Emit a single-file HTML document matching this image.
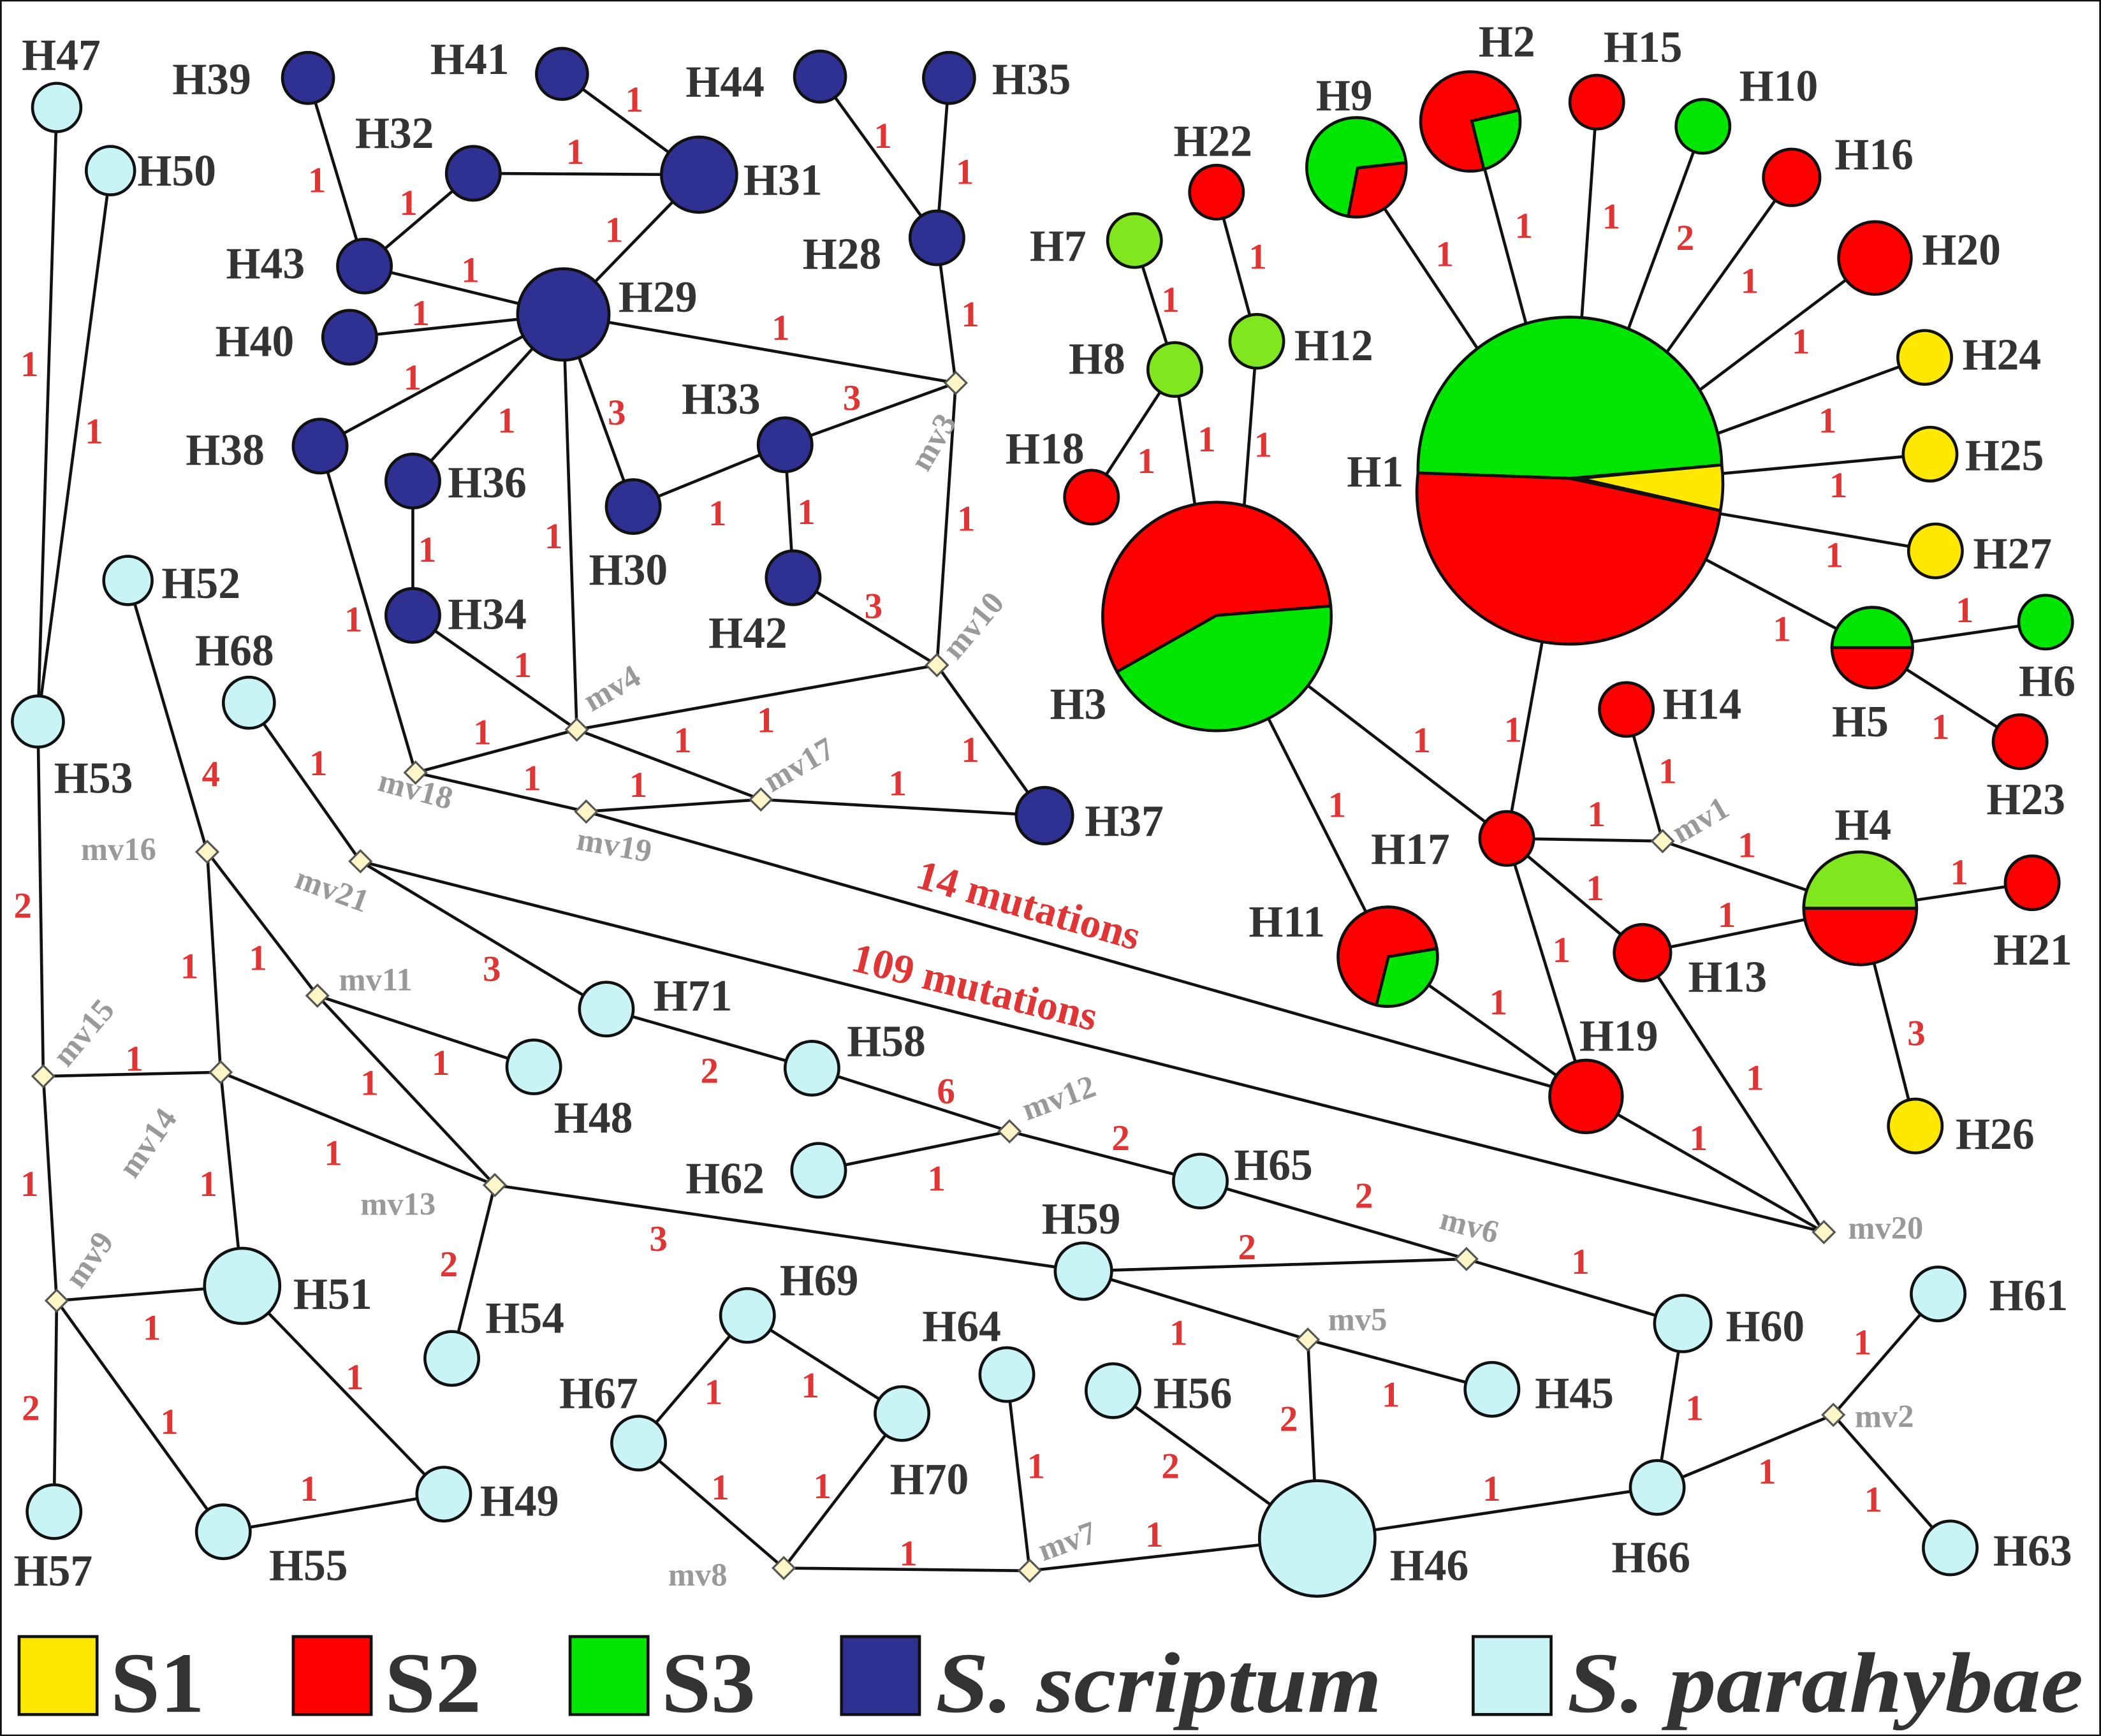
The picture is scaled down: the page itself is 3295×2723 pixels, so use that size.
<!DOCTYPE html>
<html><head><meta charset="utf-8"><style>
html,body{margin:0;padding:0;background:#fff;}
svg{display:block;}
.n{font-family:"Liberation Serif",serif;font-weight:bold;font-size:33px;fill:#333;}
.m{font-family:"Liberation Serif",serif;font-weight:bold;font-size:24px;fill:#999;}
.e{font-family:"Liberation Serif",serif;font-weight:bold;font-size:27px;fill:#e03535;}
.big{font-family:"Liberation Serif",serif;font-weight:bold;font-size:31px;fill:#e03535;}
.lg{font-family:"Liberation Serif",serif;font-weight:bold;font-size:64px;fill:#333;}
line{stroke:#111;stroke-width:2.2;}
circle,path,rect{stroke:#111;stroke-width:2.2;}
.c{fill:#c9f4f6;}.b{fill:#2e3192;}.r{fill:#ff0000;}.g{fill:#00e600;}.lgn{fill:#80e61e;}.y{fill:#ffe800;}
.d{fill:#fff6c8;stroke:#555;stroke-width:1.5;}
</style></head><body>
<svg width="3295" height="2723" viewBox="0 0 1563 1292" xmlns="http://www.w3.org/2000/svg">
<rect x="0" y="0" width="1563" height="1292" fill="#fff" stroke="none"/>
<g>
<line x1="42" y1="80" x2="28" y2="537"/><line x1="82" y1="127" x2="28" y2="537"/>
<line x1="28" y1="537" x2="32" y2="801"/><line x1="32" y1="801" x2="42" y2="968"/><line x1="42" y1="968" x2="40" y2="1125"/>
<line x1="32" y1="801" x2="164" y2="798"/><line x1="95" y1="432" x2="154" y2="634"/><line x1="154" y1="634" x2="164" y2="798"/>
<line x1="154" y1="634" x2="236" y2="741"/><line x1="164" y1="798" x2="180" y2="957"/><line x1="164" y1="798" x2="368" y2="882"/>
<line x1="236" y1="741" x2="397" y2="794"/><line x1="236" y1="741" x2="368" y2="882"/><line x1="185" y1="523" x2="268" y2="641"/>
<line x1="268" y1="641" x2="451" y2="751"/><line x1="268" y1="641" x2="1357" y2="917"/><line x1="436" y1="604" x2="1180" y2="816"/>
<line x1="368" y1="882" x2="336" y2="1011"/><line x1="368" y1="882" x2="806" y2="946"/><line x1="42" y1="968" x2="180" y2="957"/>
<line x1="42" y1="968" x2="166" y2="1140"/><line x1="180" y1="957" x2="330" y2="1112"/><line x1="166" y1="1140" x2="330" y2="1112"/>
<line x1="451" y1="751" x2="604" y2="795"/><line x1="604" y1="795" x2="751" y2="842"/><line x1="751" y1="842" x2="609" y2="871"/>
<line x1="751" y1="842" x2="893" y2="879"/><line x1="893" y1="879" x2="1091" y2="937"/><line x1="806" y1="946" x2="1091" y2="937"/>
<line x1="1091" y1="937" x2="1252" y2="985"/><line x1="806" y1="946" x2="973" y2="997"/><line x1="973" y1="997" x2="1110" y2="1034"/>
<line x1="973" y1="997" x2="980" y2="1145"/><line x1="828" y1="1035" x2="980" y2="1145"/><line x1="980" y1="1145" x2="1233" y2="1107"/>
<line x1="1233" y1="1107" x2="1252" y2="985"/><line x1="1233" y1="1107" x2="1364" y2="1053"/><line x1="1364" y1="1053" x2="1442" y2="963"/>
<line x1="1364" y1="1053" x2="1451" y2="1152"/><line x1="766" y1="1169" x2="980" y2="1145"/><line x1="583" y1="1167" x2="766" y2="1169"/>
<line x1="749" y1="1023" x2="766" y2="1169"/><line x1="583" y1="1167" x2="475" y2="1074"/><line x1="583" y1="1167" x2="671" y2="1052"/>
<line x1="475" y1="1074" x2="556" y2="979"/><line x1="556" y1="979" x2="671" y2="1052"/>
<line x1="229" y1="58" x2="271" y2="198"/><line x1="271" y1="198" x2="352" y2="129"/><line x1="352" y1="129" x2="520" y2="130"/>
<line x1="418" y1="55" x2="520" y2="130"/><line x1="520" y1="130" x2="419" y2="234"/><line x1="271" y1="198" x2="419" y2="234"/>
<line x1="260" y1="251" x2="419" y2="234"/><line x1="238" y1="332" x2="419" y2="234"/><line x1="419" y1="234" x2="429" y2="543"/>
<line x1="419" y1="234" x2="471" y2="377"/><line x1="419" y1="234" x2="307" y2="358"/><line x1="419" y1="234" x2="711" y2="285"/>
<line x1="610" y1="57" x2="697" y2="177"/><line x1="706" y1="58" x2="697" y2="177"/><line x1="697" y1="177" x2="711" y2="285"/>
<line x1="711" y1="285" x2="584" y2="331"/><line x1="584" y1="331" x2="471" y2="377"/><line x1="584" y1="331" x2="590" y2="430"/>
<line x1="590" y1="430" x2="697" y2="495"/><line x1="711" y1="285" x2="697" y2="495"/><line x1="697" y1="495" x2="777" y2="607"/>
<line x1="697" y1="495" x2="429" y2="543"/><line x1="307" y1="358" x2="307" y2="458"/><line x1="307" y1="458" x2="429" y2="543"/>
<line x1="429" y1="543" x2="309" y2="575"/><line x1="429" y1="543" x2="566" y2="595"/><line x1="238" y1="332" x2="309" y2="575"/>
<line x1="309" y1="575" x2="436" y2="604"/><line x1="436" y1="604" x2="566" y2="595"/><line x1="566" y1="595" x2="777" y2="607"/>
<line x1="844" y1="179" x2="874" y2="275"/><line x1="874" y1="275" x2="812" y2="370"/><line x1="874" y1="275" x2="900" y2="450"/>
<line x1="905" y1="143" x2="935" y2="254"/><line x1="935" y1="254" x2="920" y2="450"/>
<line x1="1010" y1="125" x2="1168" y2="363"/><line x1="1095" y1="90" x2="1168" y2="363"/><line x1="1188" y1="76" x2="1168" y2="363"/>
<line x1="1267" y1="94" x2="1168" y2="363"/><line x1="1333" y1="132" x2="1168" y2="363"/><line x1="1395" y1="192" x2="1168" y2="363"/>
<line x1="1432" y1="266" x2="1168" y2="363"/><line x1="1436" y1="338" x2="1168" y2="363"/><line x1="1440" y1="410" x2="1168" y2="363"/>
<line x1="1393" y1="482" x2="1168" y2="363"/><line x1="1393" y1="482" x2="1522" y2="463"/><line x1="1393" y1="482" x2="1503" y2="552"/>
<line x1="1168" y1="363" x2="1121" y2="624"/><line x1="905" y1="458" x2="1121" y2="624"/><line x1="905" y1="458" x2="1033" y2="712"/>
<line x1="1033" y1="712" x2="1180" y2="816"/><line x1="1121" y1="624" x2="1237" y2="626"/><line x1="1210" y1="528" x2="1237" y2="626"/>
<line x1="1237" y1="626" x2="1384" y2="676"/><line x1="1121" y1="624" x2="1222" y2="709"/><line x1="1121" y1="624" x2="1180" y2="816"/>
<line x1="1222" y1="709" x2="1384" y2="676"/><line x1="1384" y1="676" x2="1512" y2="657"/><line x1="1384" y1="676" x2="1425" y2="838"/>
<line x1="1222" y1="709" x2="1357" y2="917"/><line x1="1180" y1="816" x2="1357" y2="917"/>
</g>
<g>
<path class="d" d="M711 277l8 8l-8 8l-8-8z"/><path class="d" d="M697 487l8 8l-8 8l-8-8z"/><path class="d" d="M429 535l8 8l-8 8l-8-8z"/>
<path class="d" d="M566 587l8 8l-8 8l-8-8z"/><path class="d" d="M309 567l8 8l-8 8l-8-8z"/><path class="d" d="M436 596l8 8l-8 8l-8-8z"/>
<path class="d" d="M1237 618l8 8l-8 8l-8-8z"/><path class="d" d="M1357 909l8 8l-8 8l-8-8z"/><path class="d" d="M154 626l8 8l-8 8l-8-8z"/>
<path class="d" d="M268 633l8 8l-8 8l-8-8z"/><path class="d" d="M236 733l8 8l-8 8l-8-8z"/><path class="d" d="M32 793l8 8l-8 8l-8-8z"/>
<path class="d" d="M164 790l8 8l-8 8l-8-8z"/><path class="d" d="M368 874l8 8l-8 8l-8-8z"/><path class="d" d="M42 960l8 8l-8 8l-8-8z"/>
<path class="d" d="M751 834l8 8l-8 8l-8-8z"/><path class="d" d="M1091 929l8 8l-8 8l-8-8z"/><path class="d" d="M973 989l8 8l-8 8l-8-8z"/>
<path class="d" d="M1364 1045l8 8l-8 8l-8-8z"/><path class="d" d="M583 1159l8 8l-8 8l-8-8z"/><path class="d" d="M766 1161l8 8l-8 8l-8-8z"/>
</g>
<g>
<circle class="c" cx="42" cy="80" r="18"/><circle class="c" cx="82" cy="127" r="18"/><circle class="c" cx="28" cy="537" r="19"/>
<circle class="c" cx="95" cy="432" r="18"/><circle class="c" cx="185" cy="523" r="19"/>
<circle class="b" cx="229" cy="58" r="19"/><circle class="b" cx="418" cy="55" r="19"/><circle class="b" cx="610" cy="57" r="19"/>
<circle class="b" cx="706" cy="58" r="19"/><circle class="b" cx="352" cy="129" r="20"/><circle class="b" cx="520" cy="130" r="28"/>
<circle class="b" cx="271" cy="198" r="20"/><circle class="b" cx="697" cy="177" r="20"/><circle class="b" cx="419" cy="234" r="34"/>
<circle class="b" cx="260" cy="251" r="20"/><circle class="b" cx="238" cy="332" r="20"/><circle class="b" cx="307" cy="358" r="20"/>
<circle class="b" cx="471" cy="377" r="20"/><circle class="b" cx="584" cy="331" r="20"/><circle class="b" cx="590" cy="430" r="20"/>
<circle class="b" cx="307" cy="458" r="20"/><circle class="b" cx="777" cy="607" r="21"/>
<circle class="lgn" cx="844" cy="179" r="20"/><circle class="lgn" cx="874" cy="275" r="20"/><circle class="r" cx="905" cy="143" r="20"/>
<circle class="lgn" cx="935" cy="254" r="20"/><circle class="r" cx="812" cy="370" r="20"/>
<circle class="r" cx="1188" cy="76" r="20"/><circle class="g" cx="1267" cy="94" r="20"/><circle class="r" cx="1333" cy="132" r="21"/>
<circle class="r" cx="1395" cy="192" r="27"/><circle class="y" cx="1432" cy="266" r="20"/><circle class="y" cx="1436" cy="338" r="20"/>
<circle class="y" cx="1440" cy="410" r="20"/><circle class="g" cx="1522" cy="463" r="20"/><circle class="r" cx="1503" cy="552" r="20"/>
<circle class="r" cx="1210" cy="528" r="20"/><circle class="r" cx="1121" cy="624" r="20"/><circle class="r" cx="1512" cy="657" r="20"/>
<circle class="r" cx="1222" cy="709" r="21"/><circle class="r" cx="1180" cy="816" r="27"/><circle class="y" cx="1425" cy="838" r="20"/>
<!-- H3 pie -->
<path class="r" d="M905 458 L831 500 A85 85 0 1 1 990 451 Z"/>
<path class="g" d="M905 458 L990 451 A85 85 0 0 1 831 500 Z"/>
<!-- H1 pie -->
<path class="g" d="M1168 356 L1055 352 A113 113 0 0 1 1281 346 Z"/>
<path class="y" d="M1175 356 L1281 346 A113 113 0 0 1 1280 380 Z"/>
<path class="r" d="M1168 356 L1280 380 A113 113 0 0 1 1055 352 Z"/>
<path class="g" d="M1010 125 L1046 121 A37 37 0 1 0 1003 161 Z"/>
<path class="r" d="M1010 125 L1003 161 A37 37 0 0 0 1046 121 Z"/>
<path class="r" d="M1095 90 L1130 82 A37 37 0 1 0 1104 126 Z"/>
<path class="g" d="M1095 90 L1104 126 A37 37 0 0 0 1130 82 Z"/>
<path class="r" d="M1033 712 L1069 706 A37 37 0 1 0 1024 748 Z"/>
<path class="g" d="M1033 712 L1024 748 A37 37 0 0 0 1069 706 Z"/>
<path class="g" d="M1363 482 A30 30 0 0 1 1423 482 Z"/><path class="r" d="M1363 482 A30 30 0 0 0 1423 482 Z"/>
<path class="lgn" d="M1342 676 A42 42 0 0 1 1426 676 Z"/><path class="r" d="M1342 676 A42 42 0 0 0 1426 676 Z"/>
<circle class="c" cx="451" cy="751" r="20"/><circle class="c" cx="397" cy="794" r="20"/><circle class="c" cx="604" cy="795" r="20"/>
<circle class="c" cx="609" cy="871" r="20"/><circle class="c" cx="893" cy="879" r="20"/><circle class="c" cx="806" cy="946" r="21"/>
<circle class="c" cx="1252" cy="985" r="21"/><circle class="c" cx="1442" cy="963" r="20"/><circle class="c" cx="180" cy="957" r="28"/>
<circle class="c" cx="336" cy="1011" r="20"/><circle class="c" cx="556" cy="979" r="20"/><circle class="c" cx="671" cy="1052" r="20"/>
<circle class="c" cx="749" cy="1023" r="20"/><circle class="c" cx="828" cy="1035" r="20"/><circle class="c" cx="1110" cy="1034" r="20"/>
<circle class="c" cx="475" cy="1074" r="20"/><circle class="c" cx="980" cy="1145" r="43"/><circle class="c" cx="1233" cy="1107" r="20"/>
<circle class="c" cx="1451" cy="1152" r="20"/><circle class="c" cx="330" cy="1112" r="20"/><circle class="c" cx="166" cy="1140" r="20"/>
<circle class="c" cx="40" cy="1125" r="20"/>
</g>
<g class="n">
<text x="16" y="52">H47</text><text x="102" y="138">H50</text><text x="40" y="590">H53</text><text x="120" y="445">H52</text>
<text x="145" y="495">H68</text><text x="128" y="70">H39</text><text x="320" y="55">H41</text><text x="510" y="72">H44</text>
<text x="738" y="70">H35</text><text x="264" y="110">H32</text><text x="553" y="145">H31</text><text x="168" y="207">H43</text>
<text x="597" y="200">H28</text><text x="460" y="232">H29</text><text x="160" y="265">H40</text><text x="138" y="346">H38</text>
<text x="333" y="370">H36</text><text x="438" y="435">H30</text><text x="507" y="308">H33</text><text x="527" y="482">H42</text>
<text x="333" y="468">H34</text><text x="807" y="622">H37</text><text x="766" y="194">H7</text><text x="795" y="278">H8</text>
<text x="873" y="116">H22</text><text x="963" y="268">H12</text><text x="748" y="345">H18</text><text x="781" y="535">H3</text>
<text x="979" y="82">H9</text><text x="1100" y="42">H2</text><text x="1193" y="46">H15</text><text x="1294" y="75">H10</text>
<text x="1365" y="126">H16</text><text x="1430" y="197">H20</text><text x="1460" y="275">H24</text><text x="1462" y="350">H25</text>
<text x="1468" y="423">H27</text><text x="1002" y="362">H1</text><text x="1363" y="548">H5</text><text x="1502" y="518">H6</text>
<text x="1478" y="606">H23</text><text x="1237" y="535">H14</text><text x="1020" y="643">H17</text><text x="1365" y="625">H4</text>
<text x="1483" y="718">H21</text><text x="1256" y="738">H13</text><text x="929" y="697">H11</text><text x="1175" y="782">H19</text>
<text x="1455" y="855">H26</text><text x="486" y="752">H71</text><text x="412" y="843">H48</text><text x="630" y="786">H58</text>
<text x="510" y="888">H62</text><text x="918" y="878">H65</text><text x="775" y="918">H59</text><text x="1284" y="998">H60</text>
<text x="1480" y="975">H61</text><text x="218" y="974">H51</text><text x="361" y="992">H54</text><text x="580" y="964">H69</text>
<text x="662" y="1112">H70</text><text x="686" y="998">H64</text><text x="858" y="1048">H56</text><text x="1142" y="1048">H45</text>
<text x="416" y="1048">H67</text><text x="1034" y="1176">H46</text><text x="1199" y="1170">H66</text><text x="1483" y="1165">H63</text>
<text x="357" y="1128">H49</text><text x="200" y="1176">H55</text><text x="10" y="1180">H57</text>
</g>
<g class="m">
<text transform="translate(690,352) rotate(-60)">mv3</text><text transform="translate(712,492) rotate(-50)">mv10</text>
<text transform="translate(440,530) rotate(-30)">mv4</text><text transform="translate(574,590) rotate(-30)">mv17</text>
<text transform="translate(280,588) rotate(15)">mv18</text><text transform="translate(428,632) rotate(10)">mv19</text>
<text x="60" y="640">mv16</text><text transform="translate(218,660) rotate(20)">mv21</text><text x="252" y="737">mv11</text>
<text transform="translate(50,795) rotate(-50)">mv15</text><text transform="translate(100,878) rotate(-55)">mv14</text>
<text x="268" y="904">mv13</text><text transform="translate(60,960) rotate(-55)">mv9</text>
<text transform="translate(764,834) rotate(-20)">mv12</text><text transform="translate(1070,914) rotate(15)">mv6</text>
<text x="988" y="990">mv5</text><text x="1375" y="922">mv20</text><text x="1380" y="1062">mv2</text>
<text transform="translate(1250,628) rotate(-30)">mv1</text><text transform="translate(776,1162) rotate(-20)">mv7</text>
<text x="497" y="1180">mv8</text>
</g>
<g class="e">
<text x="15" y="280">1</text><text x="63" y="330">1</text><text x="10" y="683">2</text><text x="15" y="890">1</text><text x="16" y="1057">2</text>
<text x="150" y="585">4</text><text x="134" y="728">1</text><text x="185" y="722">1</text><text x="93" y="797">1</text><text x="148" y="890">1</text>
<text x="268" y="815">1</text><text x="321" y="800">1</text><text x="241" y="867">1</text><text x="327" y="950">2</text><text x="359" y="730">3</text>
<text x="230" y="577">1</text><text x="106" y="997">1</text><text x="119" y="1067">1</text><text x="257" y="1034">1</text><text x="223" y="1117">1</text>
<text x="483" y="931">3</text><text x="521" y="806">2</text><text x="697" y="821">6</text><text x="690" y="886">1</text><text x="827" y="856">2</text>
<text x="1008" y="899">2</text><text x="921" y="937">2</text><text x="1169" y="948">1</text><text x="870" y="1001">1</text><text x="1028" y="1047">1</text>
<text x="952" y="1065">2</text><text x="864" y="1100">2</text><text x="524" y="1045">1</text><text x="596" y="1040">1</text><text x="529" y="1116">1</text>
<text x="605" y="1115">1</text><text x="669" y="1165">1</text><text x="764" y="1100">1</text><text x="852" y="1151">1</text><text x="1103" y="1117">1</text>
<text x="1254" y="1057">1</text><text x="1308" y="1104">1</text><text x="1379" y="1008">1</text><text x="1387" y="1125">1</text>
<text x="229" y="143">1</text><text x="297" y="160">1</text><text x="421" y="122">1</text><text x="465" y="83">1</text><text x="343" y="210">1</text>
<text x="306" y="242">1</text><text x="450" y="180">1</text><text x="300" y="290">1</text><text x="370" y="322">1</text><text x="452" y="316">3</text>
<text x="405" y="408">1</text><text x="574" y="253">1</text><text x="627" y="305">3</text><text x="650" y="110">1</text><text x="711" y="137">1</text>
<text x="715" y="243">1</text><text x="311" y="418">1</text><text x="527" y="391">1</text><text x="593" y="390">1</text><text x="643" y="460">3</text>
<text x="712" y="395">1</text><text x="382" y="504">1</text><text x="256" y="470">1</text><text x="352" y="554">1</text><text x="389" y="588">1</text>
<text x="468" y="593">1</text><text x="501" y="560">1</text><text x="563" y="545">1</text><text x="661" y="592">1</text><text x="715" y="567">1</text>
<text x="864" y="232">1</text><text x="929" y="200">1</text><text x="846" y="352">1</text><text x="891" y="336">1</text><text x="933" y="340">1</text>
<text x="1068" y="198">1</text><text x="1127" y="177">1</text><text x="1192" y="170">1</text><text x="1247" y="186">2</text><text x="1295" y="218">1</text>
<text x="1333" y="263">1</text><text x="1353" y="322">1</text><text x="1361" y="370">1</text><text x="1358" y="422">1</text><text x="1319" y="477">1</text>
<text x="1455" y="463">1</text><text x="1437" y="550">1</text><text x="1119" y="552">1</text><text x="1051" y="560">1</text><text x="988" y="608">1</text>
<text x="1234" y="583">1</text><text x="1181" y="615">1</text><text x="1293" y="638">1</text><text x="1180" y="670">1</text><text x="1278" y="690">1</text>
<text x="1155" y="716">1</text><text x="1108" y="755">1</text><text x="1451" y="658">1</text><text x="1419" y="778">3</text><text x="1299" y="811">1</text>
<text x="1257" y="856">1</text>
</g>
<text class="big" transform="translate(680,660) rotate(16)">14 mutations</text>
<text class="big" transform="translate(632,722) rotate(14)">109 mutations</text>
<rect class="y" x="14" y="1218" width="58" height="58"/><text class="lg" x="82" y="1274" textLength="70" lengthAdjust="spacingAndGlyphs">S1</text>
<rect class="r" x="218" y="1218" width="58" height="58"/><text class="lg" x="286" y="1274" textLength="72" lengthAdjust="spacingAndGlyphs">S2</text>
<rect class="g" x="424" y="1218" width="58" height="58"/><text class="lg" x="492" y="1274" textLength="70" lengthAdjust="spacingAndGlyphs">S3</text>
<rect class="b" x="626" y="1218" width="58" height="58"/><text class="lg" x="696" y="1274" font-style="italic" textLength="332" lengthAdjust="spacingAndGlyphs">S. scriptum</text>
<rect class="c" x="1096" y="1218" width="58" height="58"/><text class="lg" x="1166" y="1274" font-style="italic" textLength="384" lengthAdjust="spacingAndGlyphs">S. parahybae</text>
</svg>
</body></html>
